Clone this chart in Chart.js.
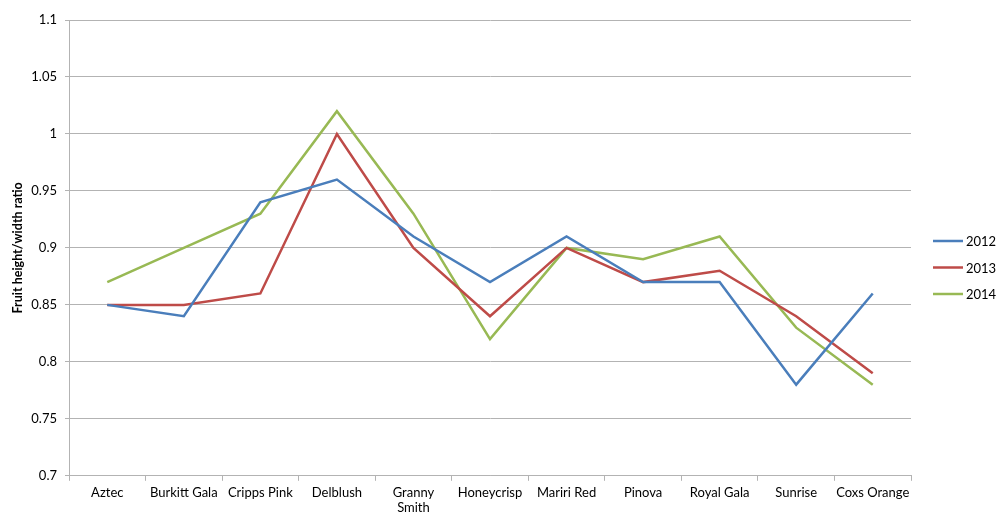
<!DOCTYPE html>
<html>
<head>
<meta charset="utf-8">
<script src="https://cdn.jsdelivr.net/npm/chart.js@4"></script>
<style>
  html, body { margin: 0; padding: 0; background: #fff; }
  #wrap { width: 997px; height: 520px; }
</style>
</head>
<body>
<div id="wrap"><canvas id="chart" width="997" height="520"></canvas></div>
<script>
const varieties = ['Aztec', 'Burkitt Gala', 'Cripps Pink', 'Delblush', ['Granny', 'Smith'],
    'Honeycrisp', 'Mariri Red', 'Pinova', 'Royal Gala', 'Sunrise', 'Coxs Orange'];
const ratio2012 = [0.85, 0.84, 0.94, 0.96, 0.91, 0.87, 0.91, 0.87, 0.87, 0.78, 0.86];
const ratio2013 = [0.85, 0.85, 0.86, 1.00, 0.90, 0.84, 0.90, 0.87, 0.88, 0.84, 0.79];
const ratio2014 = [0.87, 0.90, 0.93, 1.02, 0.93, 0.82, 0.90, 0.89, 0.91, 0.83, 0.78];

const FONT = 'Lato, "Open Sans", sans-serif';
const GRID = '#b3b3b3';

// Excel-style legend pinned to the right of the plot
const sideLegend = {
    id: 'sideLegend',
    afterDraw(chart) {
        const ctx = chart.ctx;
        ctx.save();
        ctx.font = '13px ' + FONT;
        ctx.textBaseline = 'middle';
        chart.data.datasets.forEach((ds, i) => {
            const y = 241 + i * 26.5;
            ctx.strokeStyle = ds.borderColor;
            ctx.lineWidth = 2.5;
            ctx.beginPath();
            ctx.moveTo(933, y);
            ctx.lineTo(963, y);
            ctx.stroke();
            ctx.fillStyle = '#000';
            ctx.fillText(ds.label, 966, y + 1);
        });
        ctx.restore();
    },
};

new Chart(document.getElementById('chart'), {
    type: 'line',
    data: {
        labels: varieties,
        datasets: [
            { label: '2012', data: ratio2012, borderColor: '#4a7ebb' },
            { label: '2013', data: ratio2013, borderColor: '#be4b48' },
            { label: '2014', data: ratio2014, borderColor: '#98b954' },
        ].map(d => ({ ...d, borderWidth: 2.5, pointRadius: 0, tension: 0, fill: false })),
    },
    options: {
        responsive: false,
        animation: false,
        layout: { padding: { top: 20, right: 86, left: 6, bottom: 0 } },
        plugins: { legend: { display: false }, tooltip: { enabled: false } },
        scales: {
            x: {
                offset: true,
                grid: { display: true, drawOnChartArea: false, offset: true, tickLength: 5, color: GRID },
                border: { color: GRID },
                ticks: { color: '#000', font: { family: FONT, size: 13 }, padding: 4, maxRotation: 0, autoSkip: false },
            },
            y: {
                min: 0.7,
                max: 1.1,
                afterFit: s => { s.width = 63; },
                ticks: {
                    stepSize: 0.05,
                    color: '#000',
                    font: { family: FONT, size: 13 },
                    padding: 8,
                    callback: v => String(Number(v.toFixed(2))),
                },
                grid: { color: GRID, tickLength: 4 },
                border: { color: GRID },
                title: {
                    display: true,
                    text: 'Fruit height/width ratio',
                    color: '#000',
                    font: { family: FONT, size: 12.5, weight: 'bold' },
                    padding: { bottom: 2 },
                },
            },
        },
    },
    plugins: [sideLegend],
});
</script>
</body>
</html>
